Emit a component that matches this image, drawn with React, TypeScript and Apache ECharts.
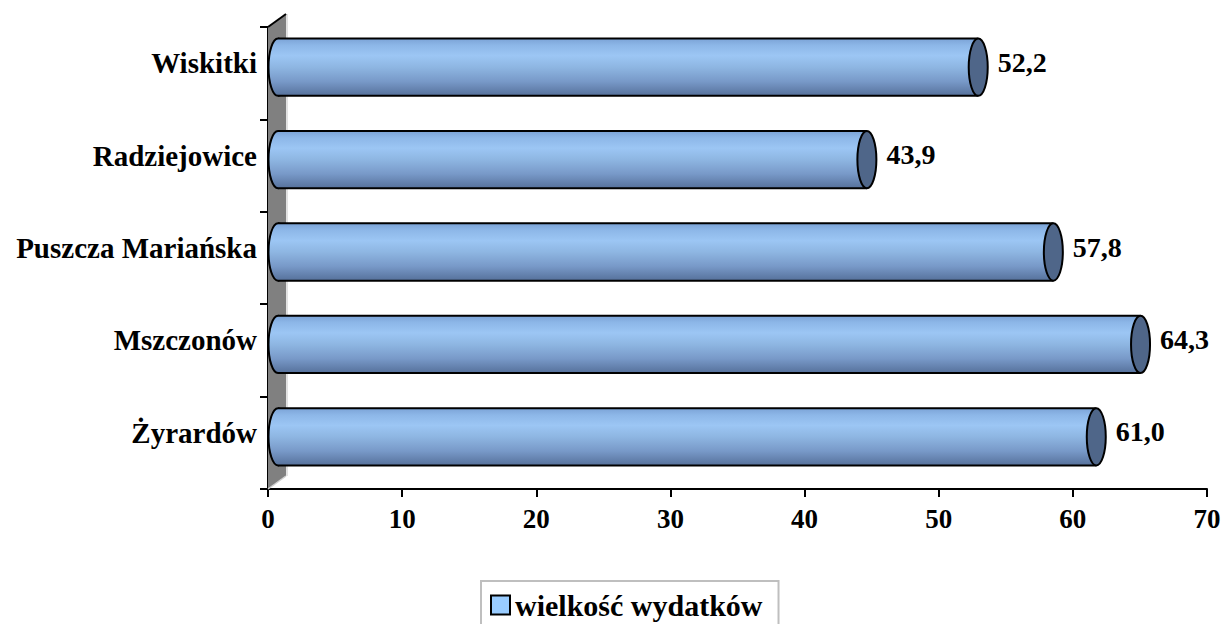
import React, { useEffect, useRef } from "react";
import * as echarts from "echarts";

const categories = ["Żyrardów", "Mszczonów", "Puszcza Mariańska", "Radziejowice", "Wiskitki"];
const values = [61.0, 64.3, 57.8, 43.9, 52.2];
const seriesName = "wielkość wydatków";
const xTicks = { min: 0, max: 70, interval: 10 };

const FONT = "Liberation Serif, Times New Roman, serif";
const DX = 10;
const DY = -6;
const WALL_DX = 18;
const WALL_DY = -13;

function fmt(v: number) {
  return v.toFixed(1).replace(".", ",");
}

export default function App() {
  const ref = useRef<HTMLDivElement>(null);
  useEffect(() => {
    if (!ref.current) return;
    const chart = echarts.init(ref.current, undefined, { renderer: "svg" });
    const bodyGrad = () =>
      new echarts.graphic.LinearGradient(0, 0, 0, 1, [
        { offset: 0, color: "#7BA3D6" },
        { offset: 0.12, color: "#8DB7E8" },
        { offset: 0.3, color: "#9CC6F4" },
        { offset: 0.5, color: "#8EB6E2" },
        { offset: 0.75, color: "#7899C8" },
        { offset: 1, color: "#56719B" },
      ]);
    chart.setOption({
      animation: false,
      textStyle: { fontFamily: FONT },
      grid: {
        left: 268,
        right: 17,
        top: 27,
        bottom: 135,
        containLabel: false,
        outerBoundsMode: "none",
      },
      xAxis: {
        type: "value",
        min: xTicks.min,
        max: xTicks.max,
        interval: xTicks.interval,
        splitLine: { show: false },
        axisLine: { show: true, lineStyle: { color: "#000", width: 2 } },
        axisTick: { show: true, length: 8, lineStyle: { color: "#000", width: 2 } },
        axisLabel: {
          color: "#000",
          fontFamily: FONT,
          fontWeight: "bold",
          fontSize: 27,
          margin: 16,
        },
      },
      yAxis: {
        type: "category",
        data: categories,
        axisLine: { show: true, lineStyle: { color: "#000", width: 2 } },
        axisTick: { show: true, length: 8, lineStyle: { color: "#000", width: 2 } },
        axisLabel: {
          color: "#000",
          fontFamily: FONT,
          fontWeight: "bold",
          fontSize: 29,
          margin: 11,
          verticalAlign: "bottom",
          lineHeight: 20,
        },
      },
      legend: {
        left: 481,
        top: 581,
        orient: "horizontal",
        padding: [9, 16, 9, 9],
        borderColor: "#bfbfbf",
        borderWidth: 2,
        itemWidth: 19,
        itemHeight: 19,
        itemStyle: { color: "#99CCFF", borderColor: "#000", borderWidth: 2 },
        textStyle: { color: "#000", fontFamily: FONT, fontWeight: "bold", fontSize: 30 },
        data: [{ name: seriesName, icon: "rect" }],
      },
      series: [
        {
          type: "custom",
          name: "wall",
          silent: true,
          z: 1,
          data: [[0]],
          encode: { x: 0 },
          renderItem: (params: any, api: any) => {
            const cs = params.coordSys;
            const x0 = cs.x;
            const yt = cs.y;
            const yb = cs.y + cs.height;
            return {
              type: "group",
              children: [
                {
                  type: "polygon",
                  shape: {
                    points: [
                      [x0, yb],
                      [x0, yt],
                      [x0 + WALL_DX, yt + WALL_DY],
                      [x0 + WALL_DX, yb + WALL_DY],
                    ],
                  },
                  style: { fill: "#808080" },
                },
                {
                  type: "line",
                  shape: { x1: x0 + WALL_DX + 1, y1: yt + WALL_DY, x2: x0 + WALL_DX + 1, y2: yb + WALL_DY },
                  style: { stroke: "#d9d9d9", lineWidth: 1.5 },
                },
                {
                  type: "line",
                  shape: { x1: x0, y1: yb, x2: x0 + WALL_DX, y2: yb + WALL_DY },
                  style: { stroke: "#d0d0d0", lineWidth: 1.5 },
                },
                {
                  type: "line",
                  shape: { x1: x0, y1: yt, x2: x0 + WALL_DX, y2: yt + WALL_DY },
                  style: { stroke: "#000", lineWidth: 2 },
                },
              ],
            };
          },
        },
        {
          type: "custom",
          name: seriesName,
          z: 3,
          itemStyle: { color: "#99CCFF" },
          encode: { x: 0, y: 1 },
          data: values.map((v, i) => [v, i]),
          renderItem: (params: any, api: any) => {
            const v = api.value(0);
            const idx = api.value(1);
            const s = api.coord([0, idx]);
            const e = api.coord([v, idx]);
            const band = api.size([0, 1])[1];
            const h = band * 0.62;
            const cy = s[1] + DY;
            const xs = s[0] + DX;
            const xe = e[0] + DX;
            const rx = 9.5;
            const ry = h / 2;
            return {
              type: "group",
              children: [
                {
                  type: "ellipse",
                  shape: { cx: xs, cy, rx, ry },
                  style: { fill: bodyGrad(), stroke: "#000", lineWidth: 2 },
                },
                {
                  type: "rect",
                  shape: { x: xs, y: cy - ry, width: xe - xs, height: h },
                  style: { fill: bodyGrad() },
                },
                {
                  type: "line",
                  shape: { x1: xs, y1: cy - ry, x2: xe, y2: cy - ry },
                  style: { stroke: "#000", lineWidth: 2 },
                },
                {
                  type: "line",
                  shape: { x1: xs, y1: cy + ry, x2: xe, y2: cy + ry },
                  style: { stroke: "#000", lineWidth: 2 },
                },
                {
                  type: "ellipse",
                  shape: { cx: xe, cy, rx, ry },
                  style: { fill: "#4F6689", stroke: "#000", lineWidth: 2 },
                },
                {
                  type: "text",
                  style: {
                    text: fmt(v),
                    x: xe + rx + 10,
                    y: cy - 5,
                    fill: "#000",
                    fontFamily: FONT,
                    fontWeight: "bold",
                    fontSize: 28,
                    textAlign: "left",
                    textVerticalAlign: "middle",
                    align: "left",
                    verticalAlign: "middle",
                  },
                },
              ],
            };
          },
        },
      ],
    });
    return () => chart.dispose();
  }, []);
  return (
    <div
      ref={ref}
      style={{ position: "fixed", left: 0, top: 0, width: 1224, height: 624, background: "#fff" }}
    />
  );
}
